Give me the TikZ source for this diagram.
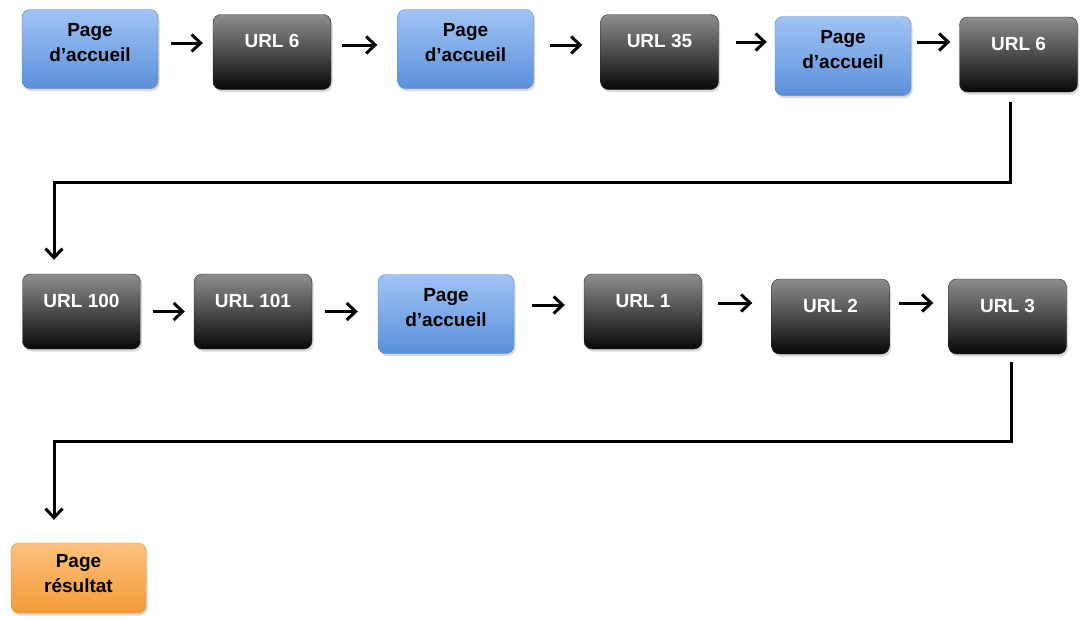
\documentclass[tikz,border=0pt]{standalone}
\usepackage{fontspec}
\setmainfont{Liberation Sans}
\usetikzlibrary{arrows.meta,shadows}

\definecolor{urltop}{HTML}{8E8E8E}
\definecolor{urlmid}{HTML}{3C3C3C}
\definecolor{urlbot}{HTML}{080808}
\definecolor{hometop}{HTML}{A0C4F4}
\definecolor{homebot}{HTML}{5B90DA}
\definecolor{homeline}{HTML}{5583C4}
\definecolor{restop}{HTML}{FDC27E}
\definecolor{resbot}{HTML}{F39A38}
\definecolor{resline}{HTML}{E0892C}

\tikzset{
	box/.style={rounded corners=8pt, inner sep=0pt, align=center,
		font=\bfseries\fontsize{19}{25}\selectfont,
		drop shadow={shadow xshift=1.5pt, shadow yshift=-2.5pt, opacity=0.3}},
	urlbox/.style={box, text=white, draw=black!85, top color=urltop, middle color=urlmid,
		bottom color=urlbot, minimum width=118pt, text height=33pt, text depth=42pt},
	homebox/.style={box, draw=homeline, top color=hometop, bottom color=homebot,
		minimum width=136pt, text height=52pt, text depth=27pt},
	resultbox/.style={box, draw=resline, top color=restop, bottom color=resbot,
		minimum width=135pt, text height=49pt, text depth=21pt},
	link/.style={line width=3pt, -{Straight Barb[length=9pt,width=17pt]}}
}

\begin{document}
\begin{tikzpicture}[x=1pt, y=-1pt]
	\useasboundingbox (0, 0) rectangle (1083, 616);

	\node[homebox] (a1) at (90, 49) {Page\\d’accueil};
	\node[urlbox] (a2) at (272, 52) {URL 6};
	\node[homebox] (a3) at (465.5, 49) {Page\\d’accueil};
	\node[urlbox] (a4) at (659.5, 52) {URL 35};
	\node[homebox] (a5) at (843, 56) {Page\\d’accueil};
	\node[urlbox] (a6) at (1018.5, 54.5) {URL 6};

	\node[urlbox] (b1) at (81.5, 311.5) {URL 100};
	\node[urlbox] (b2) at (253, 311.5) {URL 101};
	\node[homebox] (b3) at (446, 314) {Page\\d’accueil};
	\node[urlbox] (b4) at (643, 311.5) {URL 1};
	\node[urlbox] (b5) at (830.5, 316.5) {URL 2};
	\node[urlbox] (b6) at (1007.5, 316.5) {URL 3};

	\node[resultbox] (c1) at (78.5, 578) {Page\\résultat};

	\foreach \a/\b/\s/\l/\r in {a1/a2/6/13/10, a2/a3/7/11/20, a3/a4/4/16/18, a4/a5/10/17/8,
		a5/a6/14/6/9, b1/b2/0/12/9, b2/b3/0/13/20, b3/b4/9/18/19, b4/b5/8.5/16/19, b5/b6/13.5/9/15}
		\draw[link, shorten <=\l pt, shorten >=\r pt] ([yshift=\s pt]\a.east) -- ([yshift=\s pt]\a.east -| \b.west);

	\coordinate (bend1) at (54, 182);
	\coordinate (bend2) at (54, 441);
	\draw[link] ([xshift=-8.5pt, yshift=-10pt]a6.south) |- (bend1) -- ([yshift=14pt]b1.north -| bend1);
	\draw[link] ([xshift=3.5pt, yshift=-8pt]b6.south) |- (bend2) -- ([yshift=23pt]c1.north -| bend2);

\end{tikzpicture}
\end{document}
